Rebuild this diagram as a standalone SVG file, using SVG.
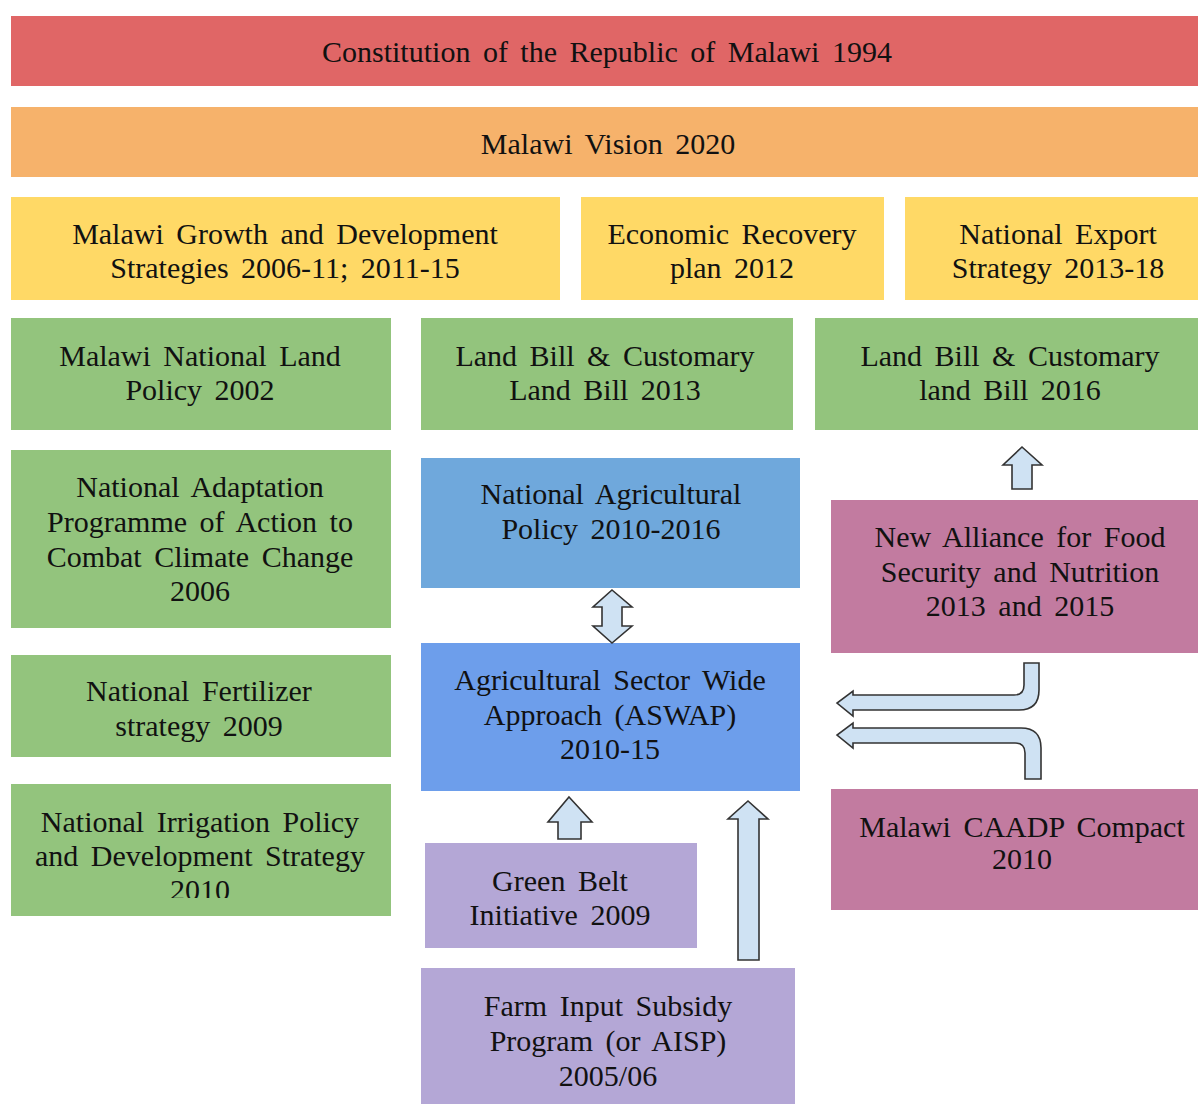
<svg xmlns="http://www.w3.org/2000/svg" width="1198" height="1104" viewBox="0 0 1198 1104" font-family="Times New Roman, Liberation Serif, DejaVu Serif, serif">
<style>
text{font-family:"Times New Roman","Liberation Serif","DejaVu Serif",serif;font-size:30px;fill:#111;text-anchor:middle;word-spacing:5px}
.red{fill:#e06666}.orange{fill:#f6b26b}.yellow{fill:#ffd966}.green{fill:#93c47d}
.blue1{fill:#6fa8dc}.blue2{fill:#6d9eeb}.purple{fill:#b4a7d6}.pink{fill:#c27ba0}
.arrow{fill:#cfe2f3;stroke:#333;stroke-width:1.6;stroke-linejoin:miter}
</style>
<defs>
<clipPath id="clipIrr"><rect x="11" y="784" width="380" height="114"/></clipPath>
</defs>
<rect width="1198" height="1104" fill="#fff"/>
<g id="constitution"><rect class="red" x="11" y="16" width="1187" height="70"/><text x="607" y="62">Constitution of the Republic of Malawi 1994</text></g>
<g id="vision"><rect class="orange" x="11" y="107" width="1187" height="70"/><text x="608" y="154">Malawi Vision 2020</text></g>
<g id="mgds"><rect class="yellow" x="11" y="197" width="549" height="103"/><text x="285" y="244">Malawi Growth and Development</text><text x="285" y="278">Strategies 2006-11; 2011-15</text></g>
<g id="erp"><rect class="yellow" x="581" y="197" width="303" height="103"/><text x="732" y="244">Economic Recovery</text><text x="732" y="278">plan 2012</text></g>
<g id="nes"><rect class="yellow" x="905" y="197" width="293" height="103"/><text x="1058" y="244">National Export</text><text x="1058" y="278">Strategy 2013-18</text></g>
<g id="landpolicy"><rect class="green" x="11" y="318" width="380" height="112"/><text x="200" y="366">Malawi National Land</text><text x="200" y="400">Policy 2002</text></g>
<g id="landbill2013"><rect class="green" x="421" y="318" width="372" height="112"/><text x="605" y="366">Land Bill &amp; Customary</text><text x="605" y="400">Land Bill 2013</text></g>
<g id="landbill2016"><rect class="green" x="815" y="318" width="383" height="112"/><text x="1010" y="366">Land Bill &amp; Customary</text><text x="1010" y="400">land Bill 2016</text></g>
<g id="napa"><rect class="green" x="11" y="450" width="380" height="178"/><text x="200" y="497">National Adaptation</text><text x="200" y="532">Programme of Action to</text><text x="200" y="567">Combat Climate Change</text><text x="200" y="601">2006</text></g>
<g id="fertilizer"><rect class="green" x="11" y="655" width="380" height="102"/><text x="199" y="701">National Fertilizer</text><text x="199" y="736">strategy 2009</text></g>
<g id="irrigation"><rect class="green" x="11" y="784" width="380" height="132"/><g clip-path="url(#clipIrr)"><text x="200" y="832">National Irrigation Policy</text><text x="200" y="866">and Development Strategy</text><text x="200" y="900">2010</text></g></g>
<g id="nap"><rect class="blue1" x="421" y="458" width="379" height="130"/><text x="611" y="504">National Agricultural</text><text x="611" y="539">Policy 2010-2016</text></g>
<g id="aswap"><rect class="blue2" x="421" y="643" width="379" height="148"/><text x="610" y="690">Agricultural Sector Wide</text><text x="610" y="725">Approach (ASWAP)</text><text x="610" y="759">2010-15</text></g>
<g id="greenbelt"><rect class="purple" x="425" y="843" width="272" height="105"/><text x="560" y="891">Green Belt</text><text x="560" y="925">Initiative 2009</text></g>
<g id="fisp"><rect class="purple" x="421" y="968" width="374" height="136"/><text x="608" y="1016">Farm Input Subsidy</text><text x="608" y="1051">Program (or AISP)</text><text x="608" y="1086">2005/06</text></g>
<g id="newalliance"><rect class="pink" x="831" y="500" width="367" height="153"/><text x="1020" y="547">New Alliance for Food</text><text x="1020" y="582">Security and Nutrition</text><text x="1020" y="616">2013 and 2015</text></g>
<g id="caadp"><rect class="pink" x="831" y="789" width="367" height="121"/><text x="1022" y="837">Malawi CAADP Compact</text><text x="1022" y="869">2010</text></g>
<g id="connectors">
<path class="arrow" d="M612 590 L632 607 L622 607 L622 626 L632 626 L612 643 L593 626 L602 626 L602 607 L593 607 Z"/>
<path class="arrow" d="M569 797 L592 822 L581 822 L581 839 L558 839 L558 822 L548 822 Z"/>
<path class="arrow" d="M748 801 L768 819 L759 819 L759 960 L738 960 L738 819 L728 819 Z"/>
<path class="arrow" d="M1022 447 L1042 465 L1032 465 L1032 489 L1012 489 L1012 465 L1003 465 Z"/>
<path class="arrow" d="M1024 663 L1039 663 L1039 690 Q1039 710 1019 710 L853 710 L853 716 L837 703 L853 691 L853 695 L1014 695 Q1024 695 1024 685 Z"/>
<path class="arrow" d="M1025 779 L1041 779 L1041 748 Q1041 728 1021 728 L853 728 L853 723 L837 735 L853 748 L853 743 L1015 743 Q1025 743 1025 753 Z"/>
</g>
</svg>
